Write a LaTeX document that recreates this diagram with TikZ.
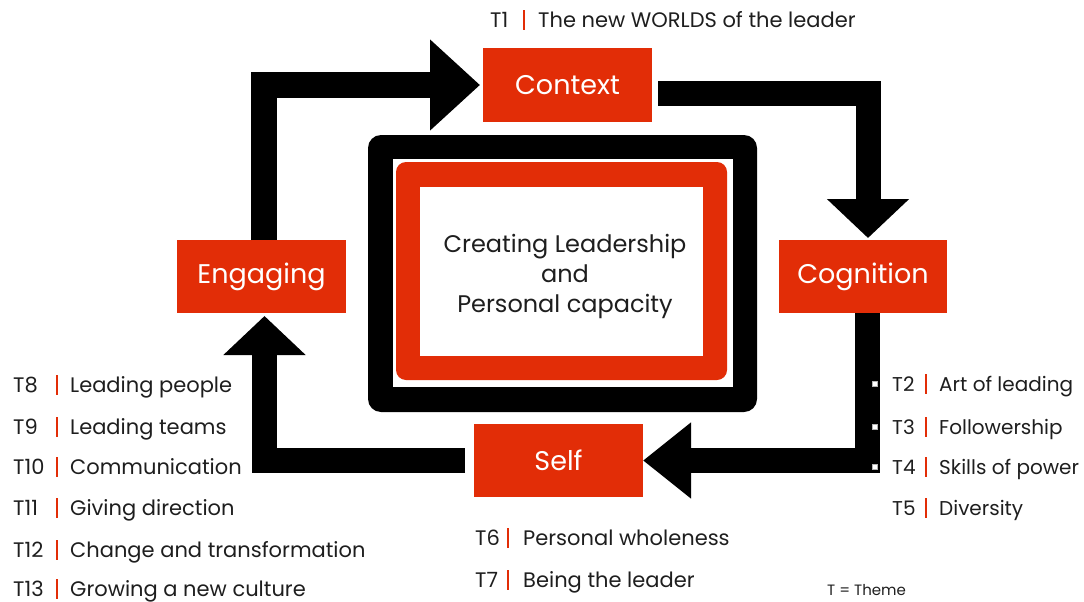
\documentclass[tikz,border=0pt]{standalone}
\usepackage{fontspec}
\setmainfont{Poppins}
\usetikzlibrary{arrows.meta}
\definecolor{brandred}{HTML}{E22D07}
\definecolor{ink}{HTML}{1E1E1E}

\begin{document}
\begin{tikzpicture}[x=1pt,y=-1pt,
  phase/.style={fill=brandred, text=white, inner sep=0pt, outer sep=0pt,
    minimum width=169pt, minimum height=73pt, font=\fontsize{27}{30}\selectfont},
  fatarrow/.style n args={2}{line width=25pt, line join=miter,
    -{Triangle[length=#1, width=#2]}},
  item/.style={anchor=base west, inner sep=0pt, text=ink, font=\fontsize{21}{24}\selectfont},
  narrowitem/.style={item, font=\fontsize{20}{24}\selectfont},
  divider/.style={fill=brandred, inner sep=0pt, minimum width=2pt, minimum height=20pt},
  bullet/.style={fill=white, draw=gray!60, line width=0.4pt, inner sep=0pt, minimum size=5pt},
  panel/.style={inner sep=0pt, outer sep=0pt}
]
\useasboundingbox (0,0) rectangle (1084,602);

% the four phases of the cycle
\node[phase] (context)   at (567.5,85)    {Context};
\node[phase] (engaging)  at (261.5,276.5) {Engaging};
\node[phase, minimum width=168pt] (cognition) at (863,276.5) {Cognition};
\node[phase] (self)      at (558.5,460.5) {Self};

% cycle arrows
\draw[fatarrow={50pt}{88pt}, line width=26pt]
  ([xshift=2pt]engaging.north) |- ([xshift=-3pt]context.west);
\draw[fatarrow={39pt}{80pt}]
  ([xshift=6pt, yshift=-8.5pt]context.east) -| ([xshift=5pt, yshift=2pt]cognition.north);
\draw[fatarrow={48pt}{73pt}]
  ([xshift=4.5pt]cognition.south) |- (self.east);
\draw[fatarrow={39pt}{80pt}]
  ([xshift=-9pt]self.west) -| ([xshift=3pt, yshift=-3pt]engaging.south);

% central frame
\node[panel, fill=black, rounded corners=13pt, minimum width=389pt, minimum height=277pt] (frame) at (562.5,273.5) {};
\node[panel, fill=white, minimum width=340pt, minimum height=228pt] (gap) at (563,273) {};
\node[panel, fill=brandred, rounded corners=10pt, minimum width=331pt, minimum height=218pt] (band) at (561.5,271) {};
\node[panel, fill=white, minimum width=283pt, minimum height=169pt] (core) at (561.5,271.5) {};
\node[align=center, text=ink, inner sep=0pt, font=\fontsize{24}{30}\selectfont] (title) at (565,276)
  {Creating Leadership\\and\\Personal capacity};

% theme T1
\node[item] (t1) at (490,27.5) {T1};
\node[divider] (d1) at (524,20) {};
\node[item] (n1) at (538,27.5) {The new WORLDS of the leader};

% themes T2--T5
\node[bullet] (b2) at (875,384) {};
\node[bullet] (b3) at (875,427) {};
\node[bullet] (b4) at (875,467) {};
\node[narrowitem] (t2) at (892,391.5) {T2};
\node[divider] (d2) at (926,384) {};
\node[narrowitem] (n2) at (939,391.5) {Art of leading};
\node[narrowitem] (t3) at (892,434.5) {T3};
\node[divider] (d3) at (926,427) {};
\node[narrowitem] (n3) at (939,434.5) {Followership};
\node[narrowitem] (t4) at (892,474.5) {T4};
\node[divider] (d4) at (926,467) {};
\node[narrowitem] (n4) at (939,474.5) {Skills of power};
\node[narrowitem] (t5) at (892,515.5) {T5};
\node[divider] (d5) at (926,508) {};
\node[narrowitem] (n5) at (939,515.5) {Diversity};

% themes T6--T7
\node[item] (t6) at (475,545.5) {T6};
\node[divider] (d6) at (508,538) {};
\node[item] (n6) at (523,545.5) {Personal wholeness};
\node[item] (t7) at (475,587.5) {T7};
\node[divider] (d7) at (508,580) {};
\node[item] (n7) at (523,587.5) {Being the leader};

% themes T8--T13
\node[item] (t8) at (13,392.5) {T8};
\node[divider] (d8) at (57,385) {};
\node[item] (n8) at (70,392.5) {Leading people};
\node[item] (t9) at (13,434.5) {T9};
\node[divider] (d9) at (57,427) {};
\node[item] (n9) at (70,434.5) {Leading teams};
\node[item] (t10) at (13,474.5) {T10};
\node[divider] (d10) at (57,467) {};
\node[item] (n10) at (70,474.5) {Communication};
\node[item] (t11) at (13,515.5) {T11};
\node[divider] (d11) at (57,508) {};
\node[item] (n11) at (70,515.5) {Giving direction};
\node[item] (t12) at (13,557.5) {T12};
\node[divider] (d12) at (57,550) {};
\node[item] (n12) at (70,557.5) {Change and transformation};
\node[item] (t13) at (13,596) {T13};
\node[divider] (d13) at (57,589) {};
\node[item] (n13) at (70,596) {Growing a new culture};

% legend
\node[item, font=\fontsize{15}{18}\selectfont] (legend) at (827,595.5) {T = Theme};
\end{tikzpicture}
\end{document}
